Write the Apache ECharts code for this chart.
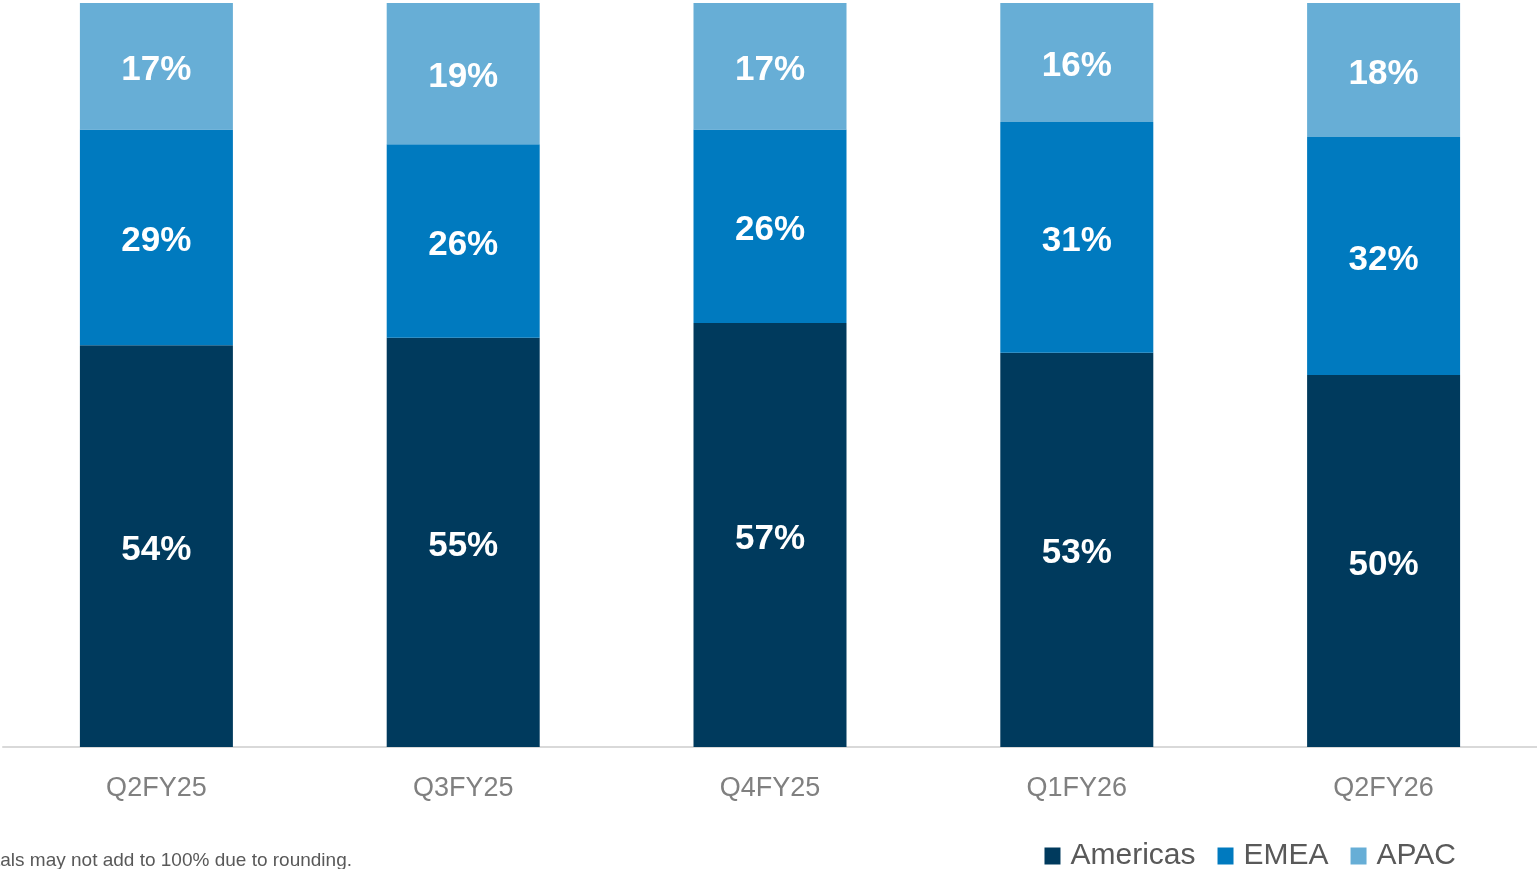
<!DOCTYPE html>
<html>
<head>
<meta charset="utf-8">
<script src="https://cdn.jsdelivr.net/npm/echarts@6/dist/echarts.min.js"></script>
<style>
  html, body { margin: 0; padding: 0; background: #fff; }
  #main { width: 1537px; height: 869px; }
</style>
</head>
<body>
<div id="main"></div>
<script>
// revenue share by region, percent
var quarters = ['Q2FY25', 'Q3FY25', 'Q4FY25', 'Q1FY26', 'Q2FY26']
var americas = [54, 55, 57, 53, 50]
var emea = [29, 26, 26, 31, 32]
var apac = [17, 19, 17, 16, 18]
var footnote = 'Totals may not add to 100% due to rounding.'

var font = '"Liberation Sans", Arial, sans-serif'

function barSeries(name, data, color) {
  return {
    name: name,
    type: 'bar',
    stack: 'total',
    barWidth: 153,
    data: data,
    itemStyle: { color: color },
    label: {
      show: true,
      position: 'inside',
      offset: [0, 4],
      formatter: '{c}%',
      color: '#fff',
      fontFamily: font,
      fontWeight: 'bold',
      fontSize: 35
    }
  }
}

var myChart = echarts.init(document.getElementById('main'))
var option = {
  animation: false,
  grid: { left: 3, right: -2, top: 3, bottom: 122 },
  legend: {
    right: 76,
    top: 836,
    itemWidth: 16,
    itemHeight: 17,
    itemGap: 22,
    icon: 'rect',
    textStyle: { color: '#595959', fontSize: 30, fontFamily: font, padding: [0, 0, 0, 5] },
    data: ['Americas', 'EMEA', 'APAC']
  },
  xAxis: {
    type: 'category',
    data: quarters,
    axisLine: { lineStyle: { color: '#d9d9d9', width: 2 } },
    axisTick: { show: false },
    axisLabel: { color: '#808080', fontSize: 27, fontFamily: font, margin: 28 }
  },
  yAxis: {
    type: 'value',
    min: 0,
    max: 100,
    show: false
  },
  graphic: [
    {
      type: 'text',
      x: 352,
      y: 851,
      style: {
        text: footnote,
        fill: '#595959',
        font: '19px ' + font,
        textAlign: 'right'
      }
    }
  ],
  series: [
    barSeries('Americas', americas, '#003a5d'),
    barSeries('EMEA', emea, '#007abf'),
    barSeries('APAC', apac, '#67aed6')
  ]
}
myChart.setOption(option)
</script>
</body>
</html>
